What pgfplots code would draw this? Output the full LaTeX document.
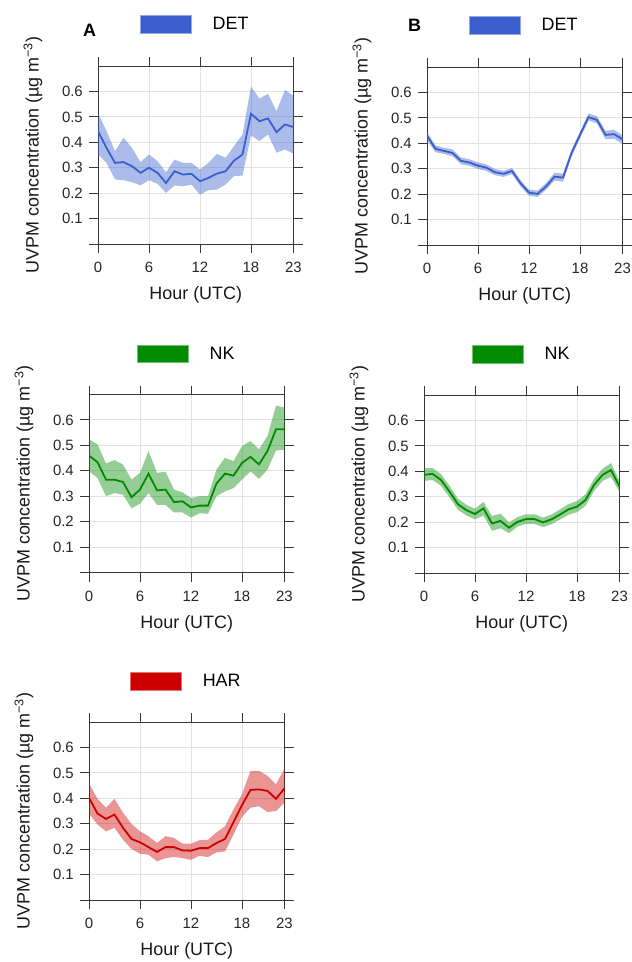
\documentclass[border=0pt]{standalone}
\usepackage{fontspec}
\setmainfont{Liberation Sans}
\usepackage{pgfplots}
\usepackage{pgfplotstable}
\pgfplotsset{compat=1.18}
\usepgfplotslibrary{fillbetween}

\definecolor{detblue}{RGB}{58,95,205}
\definecolor{nkgreen}{RGB}{0,139,0}
\definecolor{harred}{RGB}{205,0,0}
\definecolor{axgray}{RGB}{55,55,55}
\definecolor{gridgray}{RGB}{226,226,226}

% hourly mean (m) with lower / upper band
\pgfplotstableread{
h m lo up
0 0.444 0.352 0.516
1 0.378 0.319 0.444
2 0.319 0.254 0.365
3 0.322 0.251 0.418
4 0.306 0.243 0.378
5 0.280 0.231 0.322
6 0.300 0.251 0.352
7 0.280 0.237 0.326
8 0.240 0.201 0.282
9 0.286 0.230 0.332
10 0.273 0.227 0.319
11 0.276 0.234 0.319
12 0.247 0.194 0.293
13 0.260 0.212 0.319
14 0.277 0.214 0.355
15 0.286 0.234 0.339
16 0.328 0.267 0.385
17 0.352 0.269 0.431
18 0.512 0.427 0.619
19 0.483 0.405 0.572
20 0.494 0.431 0.591
21 0.440 0.359 0.523
22 0.470 0.372 0.606
23 0.460 0.355 0.582
}\detA

\pgfplotstableread{
h m lo up
0 0.430 0.412 0.445
1 0.378 0.365 0.392
2 0.370 0.358 0.382
3 0.362 0.349 0.376
4 0.331 0.318 0.344
5 0.324 0.311 0.337
6 0.312 0.299 0.325
7 0.304 0.291 0.317
8 0.286 0.274 0.299
9 0.280 0.268 0.292
10 0.291 0.279 0.303
11 0.243 0.231 0.255
12 0.206 0.194 0.218
13 0.201 0.189 0.214
14 0.230 0.217 0.243
15 0.269 0.253 0.284
16 0.265 0.249 0.281
17 0.361 0.347 0.375
18 0.433 0.420 0.446
19 0.503 0.490 0.518
20 0.492 0.478 0.506
21 0.433 0.416 0.449
22 0.436 0.418 0.453
23 0.416 0.398 0.432
}\detB

\pgfplotstableread{
h m lo up
0 0.460 0.398 0.524
1 0.434 0.372 0.504
2 0.365 0.300 0.429
3 0.365 0.313 0.442
4 0.356 0.306 0.425
5 0.296 0.253 0.365
6 0.326 0.270 0.392
7 0.389 0.313 0.478
8 0.323 0.266 0.392
9 0.326 0.266 0.396
10 0.277 0.236 0.326
11 0.280 0.236 0.315
12 0.256 0.216 0.293
13 0.263 0.233 0.300
14 0.263 0.231 0.300
15 0.350 0.300 0.405
16 0.389 0.319 0.451
17 0.381 0.332 0.438
18 0.431 0.365 0.497
19 0.455 0.398 0.517
20 0.425 0.368 0.484
21 0.478 0.405 0.537
22 0.563 0.480 0.656
23 0.563 0.482 0.649
}\nkA

\pgfplotstableread{
h m lo up
0 0.386 0.362 0.412
1 0.390 0.366 0.413
2 0.366 0.343 0.389
3 0.320 0.297 0.343
4 0.270 0.248 0.292
5 0.247 0.226 0.268
6 0.232 0.211 0.253
7 0.254 0.226 0.280
8 0.195 0.166 0.224
9 0.205 0.176 0.234
10 0.178 0.157 0.199
11 0.201 0.182 0.220
12 0.212 0.193 0.231
13 0.212 0.193 0.231
14 0.199 0.180 0.218
15 0.211 0.192 0.230
16 0.230 0.210 0.250
17 0.250 0.229 0.271
18 0.261 0.239 0.283
19 0.287 0.264 0.310
20 0.346 0.322 0.370
21 0.386 0.362 0.410
22 0.405 0.378 0.432
23 0.340 0.318 0.362
}\nkB

\pgfplotstableread{
h m lo up
0 0.402 0.340 0.459
1 0.340 0.297 0.398
2 0.319 0.270 0.363
3 0.336 0.284 0.398
4 0.284 0.237 0.343
5 0.240 0.201 0.299
6 0.227 0.182 0.270
7 0.208 0.178 0.251
8 0.189 0.152 0.224
9 0.208 0.165 0.251
10 0.208 0.169 0.244
11 0.195 0.165 0.222
12 0.194 0.158 0.222
13 0.204 0.174 0.235
14 0.204 0.169 0.237
15 0.224 0.187 0.266
16 0.240 0.191 0.290
17 0.306 0.257 0.356
18 0.373 0.327 0.416
19 0.433 0.363 0.508
20 0.435 0.369 0.508
21 0.429 0.346 0.488
22 0.398 0.350 0.455
23 0.439 0.383 0.517
}\harA

\pgfplotsset{
  panel/.style={
    scale only axis, width=195.5bp, height=178bp,
    xmin=0, xmax=23, ymin=0, ymax=0.7,
    xtick={0,6,12,18,23}, xticklabels={0,6,12,18,23},
    ytick={0,0.1,0.2,0.3,0.4,0.5,0.6},
    yticklabels={,0.1,0.2,0.3,0.4,0.5,0.6},
    tick align=outside, major tick length=9bp,
    axis line style={axgray, line width=0.9bp},
    every tick/.style={axgray, line width=0.9bp},
    grid=major, major grid style={gridgray, line width=1bp},
    tick label style={font=\fontsize{15}{17}\selectfont, inner sep=0pt, text=black!85},
    xticklabel style={anchor=north, yshift=-9bp},
    yticklabel style={anchor=east, xshift=-6bp},
    label style={font=\fontsize{18}{21}\selectfont, text=black!90},
    xlabel={Hour (UTC)},
    ylabel={UVPM concentration (µg m\textsuperscript{−3})},
    xlabel style={at={(axis description cs:0.5,-0.2865)}, anchor=center},
    ylabel style={at={(axis description cs:-0.3325,0.5)}, anchor=center},
    legend style={draw=none, fill=none, inner sep=0pt, outer sep=0pt,
      column sep=21bp, anchor=west, font=\fontsize{18}{21}\selectfont,
      nodes={inner sep=0pt}},
    legend image code/.code={\filldraw[#1, line width=0.7bp] (0bp,-8.8bp) rectangle (51bp,8.8bp);},
  },
  band/.style={fill=#1, fill opacity=0.42, draw=none, forget plot},
  mean/.style={#1, line width=1.8bp, forget plot},
}

\begin{document}
\begin{tikzpicture}

% A, DET
\begin{axis}[panel, at={(98bp,-244bp)}, anchor=south west,
  legend style={at={(axis description cs:0.215,1.235)}}]
\addplot[name path=up, draw=none, forget plot] table[x=h,y=up]{\detA};
\addplot[name path=lo, draw=none, forget plot] table[x=h,y=lo]{\detA};
\addplot[band=detblue] fill between[of=up and lo];
\addplot[mean=detblue] table[x=h,y=m]{\detA};
\addlegendimage{fill=detblue, draw=detblue!55!white}
\addlegendentry{DET}
\end{axis}

% B, DET
\begin{axis}[panel, at={(427bp,-245bp)}, anchor=south west,
  legend style={at={(axis description cs:0.215,1.235)}}]
\addplot[name path=up, draw=none, forget plot] table[x=h,y=up]{\detB};
\addplot[name path=lo, draw=none, forget plot] table[x=h,y=lo]{\detB};
\addplot[band=detblue] fill between[of=up and lo];
\addplot[mean=detblue] table[x=h,y=m]{\detB};
\addlegendimage{fill=detblue, draw=detblue!55!white}
\addlegendentry{DET}
\end{axis}

% A, NK
\begin{axis}[panel, at={(89bp,-572.5bp)}, anchor=south west,
  legend style={at={(axis description cs:0.2455,1.229)}}]
\addplot[name path=up, draw=none, forget plot] table[x=h,y=up]{\nkA};
\addplot[name path=lo, draw=none, forget plot] table[x=h,y=lo]{\nkA};
\addplot[band=nkgreen] fill between[of=up and lo];
\addplot[mean=nkgreen] table[x=h,y=m]{\nkA};
\addlegendimage{fill=nkgreen, draw=nkgreen!55!white}
\addlegendentry{NK}
\end{axis}

% B, NK
\begin{axis}[panel, at={(424bp,-573bp)}, anchor=south west,
  legend style={at={(axis description cs:0.2455,1.229)}}]
\addplot[name path=up, draw=none, forget plot] table[x=h,y=up]{\nkB};
\addplot[name path=lo, draw=none, forget plot] table[x=h,y=lo]{\nkB};
\addplot[band=nkgreen] fill between[of=up and lo];
\addplot[mean=nkgreen] table[x=h,y=m]{\nkB};
\addlegendimage{fill=nkgreen, draw=nkgreen!55!white}
\addlegendentry{NK}
\end{axis}

% A, HAR
\begin{axis}[panel, at={(89bp,-900bp)}, anchor=south west,
  legend style={at={(axis description cs:0.21,1.229)}}]
\addplot[name path=up, draw=none, forget plot] table[x=h,y=up]{\harA};
\addplot[name path=lo, draw=none, forget plot] table[x=h,y=lo]{\harA};
\addplot[band=harred] fill between[of=up and lo];
\addplot[mean=harred] table[x=h,y=m]{\harA};
\addlegendimage{fill=harred, draw=harred!55!white}
\addlegendentry{HAR}
\end{axis}

\node[font=\bfseries\fontsize{18}{21}\selectfont] at (89.5bp,-30bp) {A};
\node[font=\bfseries\fontsize{18}{21}\selectfont] at (414.5bp,-25bp) {B};

\pgfresetboundingbox
\path[use as bounding box] (0,0) rectangle (632bp,-962bp);
\end{tikzpicture}
\end{document}
